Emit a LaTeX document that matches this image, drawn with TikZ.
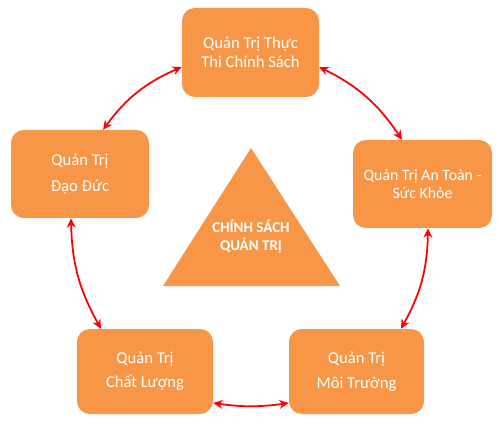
\documentclass[tikz,border=0pt]{standalone}
\usepackage{fontspec}
\setmainfont{Carlito}
\usetikzlibrary{arrows.meta,calc}
\definecolor{boxorange}{HTML}{F79646}
\definecolor{arrred}{HTML}{FF0000}
\tikzset{
  box/.style={fill=boxorange, draw=none, rounded corners=11pt, text=white, align=center, inner sep=0pt},
  link/.style={draw=arrred, line width=1.5pt, {Stealth[length=8pt,width=7.5pt]}-{Stealth[length=8pt,width=7.5pt]}},
}
\begin{document}
\begin{tikzpicture}[x=0.03cm,y=-0.03cm]
\useasboundingbox (0,0) rectangle (500,426);
\node[box, minimum width=137*0.03cm, minimum height=89*0.03cm, font=\fontsize{14.2pt}{16pt}\selectfont] (T) at (250.5,52.5) {Quản Trị Thực\\Thi Chính Sách};
\node[box, minimum width=139*0.03cm, minimum height=88*0.03cm, font=\fontsize{13.5pt}{15.5pt}\selectfont] (R) at (422.5,184) {Quản Trị An Toàn -\\Sức Khỏe};
\node[box, minimum width=138*0.03cm, minimum height=88*0.03cm, font=\fontsize{14.2pt}{22pt}\selectfont] (L) at (80,174) {Quản Trị\\Đạo Đức};
\node[box, minimum width=136*0.03cm, minimum height=85*0.03cm, font=\fontsize{14.2pt}{20.5pt}\selectfont] (BL) at (145,371.5) {Quản Trị\\Chất Lượng};
\node[box, minimum width=135*0.03cm, minimum height=85*0.03cm, font=\fontsize{14.2pt}{21pt}\selectfont] (BR) at (356.5,371.5) {Quản Trị\\Môi Trường};
\fill[boxorange] (251,148) coordinate (apex) -- (340,286) coordinate (br) -- (163,286) coordinate (bl) -- cycle;
\node[text=white, align=center, font=\bfseries\fontsize{12.8pt}{16pt}\selectfont] (C) at (251,236.5) {CHÍNH SÁCH\\QUẢN TRỊ};
\draw[link] ([shift={(23,0)}]L.north) to[bend left=15] ([shift={(0,14.5)}]T.west);
\draw[link] ([shift={(0,14.5)}]T.east) to[bend left=15] ([shift={(-20.5,0)}]R.north);
\draw[link] ([shift={(5.5,0)}]R.south) to[bend left=14] ([shift={(44.5,0)}]BR.north);
\draw[link] ([shift={(0,31.5)}]BR.west) to[bend left=8] ([shift={(0,31.5)}]BL.east);
\draw[link] ([shift={(-44,0)}]BL.north) to[bend left=14] ([shift={(-9,0)}]L.south);
\end{tikzpicture}
\end{document}
